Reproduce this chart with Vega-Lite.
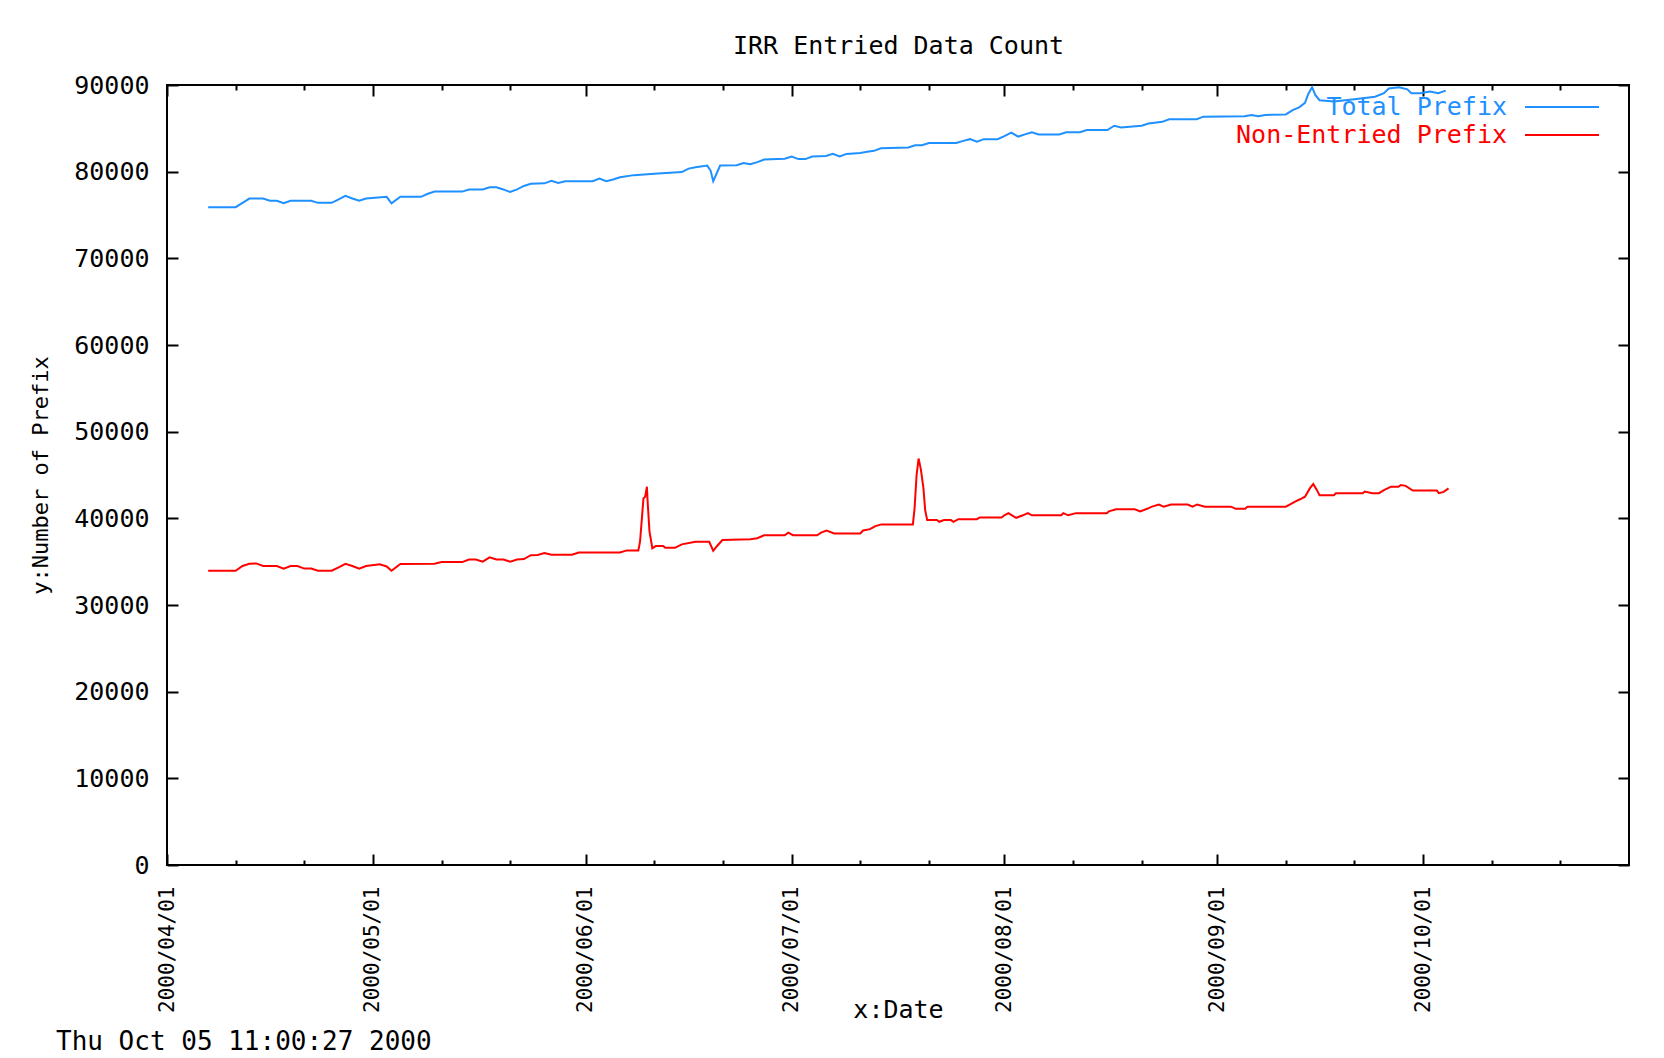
{
"$schema": "https://vega.github.io/schema/vega-lite/v6.json",
"width": 1462, "height": 780,
"autosize": {"type": "none"},
"padding": {"left": 167, "top": 85, "right": 35, "bottom": 193},
"background": "#ffffff",
"title": {"text": "Thu Oct 05 11:00:27 2000", "orient": "bottom", "anchor": "start", "frame": "group", "dx": -111, "offset": 7, "font": "DejaVu Sans Mono", "fontSize": 26, "fontWeight": "normal", "color": "#000000"},
"config": {
  "view": {"stroke": "#000000", "strokeWidth": 2},
  "axis": {"labelFont": "DejaVu Sans Mono", "titleFont": "DejaVu Sans Mono", "labelColor": "#000000", "titleColor": "#000000", "tickColor": "#000000", "tickWidth": 2, "domain": false, "grid": false, "titleFontWeight": "normal"}
},
"data": {"values": [
{"d":"2000-04-07T00:00","v":75900,"s":"Total Prefix"},
{"d":"2000-04-11T00:00","v":75900,"s":"Total Prefix"},
{"d":"2000-04-12T00:00","v":76400,"s":"Total Prefix"},
{"d":"2000-04-13T00:00","v":76900,"s":"Total Prefix"},
{"d":"2000-04-15T00:00","v":76900,"s":"Total Prefix"},
{"d":"2000-04-16T00:00","v":76650,"s":"Total Prefix"},
{"d":"2000-04-17T00:00","v":76650,"s":"Total Prefix"},
{"d":"2000-04-18T00:00","v":76350,"s":"Total Prefix"},
{"d":"2000-04-19T00:00","v":76650,"s":"Total Prefix"},
{"d":"2000-04-22T00:00","v":76650,"s":"Total Prefix"},
{"d":"2000-04-23T00:00","v":76400,"s":"Total Prefix"},
{"d":"2000-04-25T00:00","v":76400,"s":"Total Prefix"},
{"d":"2000-04-26T00:00","v":76800,"s":"Total Prefix"},
{"d":"2000-04-27T00:00","v":77200,"s":"Total Prefix"},
{"d":"2000-04-28T00:00","v":76900,"s":"Total Prefix"},
{"d":"2000-04-29T00:00","v":76650,"s":"Total Prefix"},
{"d":"2000-04-30T00:00","v":76900,"s":"Total Prefix"},
{"d":"2000-05-03T00:00","v":77100,"s":"Total Prefix"},
{"d":"2000-05-03T17:00","v":76350,"s":"Total Prefix"},
{"d":"2000-05-05T00:00","v":77100,"s":"Total Prefix"},
{"d":"2000-05-08T00:00","v":77100,"s":"Total Prefix"},
{"d":"2000-05-09T00:00","v":77450,"s":"Total Prefix"},
{"d":"2000-05-10T00:00","v":77700,"s":"Total Prefix"},
{"d":"2000-05-14T00:00","v":77700,"s":"Total Prefix"},
{"d":"2000-05-15T00:00","v":77950,"s":"Total Prefix"},
{"d":"2000-05-17T00:00","v":77950,"s":"Total Prefix"},
{"d":"2000-05-18T00:00","v":78200,"s":"Total Prefix"},
{"d":"2000-05-19T00:00","v":78200,"s":"Total Prefix"},
{"d":"2000-05-20T00:00","v":77950,"s":"Total Prefix"},
{"d":"2000-05-21T00:00","v":77650,"s":"Total Prefix"},
{"d":"2000-05-22T00:00","v":77950,"s":"Total Prefix"},
{"d":"2000-05-23T00:00","v":78350,"s":"Total Prefix"},
{"d":"2000-05-24T00:00","v":78600,"s":"Total Prefix"},
{"d":"2000-05-26T00:00","v":78650,"s":"Total Prefix"},
{"d":"2000-05-27T00:00","v":78950,"s":"Total Prefix"},
{"d":"2000-05-28T00:00","v":78700,"s":"Total Prefix"},
{"d":"2000-05-29T00:00","v":78900,"s":"Total Prefix"},
{"d":"2000-06-02T00:00","v":78900,"s":"Total Prefix"},
{"d":"2000-06-03T00:00","v":79200,"s":"Total Prefix"},
{"d":"2000-06-04T00:00","v":78900,"s":"Total Prefix"},
{"d":"2000-06-05T00:00","v":79100,"s":"Total Prefix"},
{"d":"2000-06-06T00:00","v":79350,"s":"Total Prefix"},
{"d":"2000-06-08T00:00","v":79600,"s":"Total Prefix"},
{"d":"2000-06-11T00:00","v":79750,"s":"Total Prefix"},
{"d":"2000-06-15T00:00","v":79950,"s":"Total Prefix"},
{"d":"2000-06-16T00:00","v":80350,"s":"Total Prefix"},
{"d":"2000-06-17T00:00","v":80500,"s":"Total Prefix"},
{"d":"2000-06-18T17:00","v":80700,"s":"Total Prefix"},
{"d":"2000-06-19T05:00","v":80100,"s":"Total Prefix"},
{"d":"2000-06-19T14:00","v":78900,"s":"Total Prefix"},
{"d":"2000-06-20T14:00","v":80700,"s":"Total Prefix"},
{"d":"2000-06-23T00:00","v":80750,"s":"Total Prefix"},
{"d":"2000-06-24T00:00","v":81000,"s":"Total Prefix"},
{"d":"2000-06-25T00:00","v":80850,"s":"Total Prefix"},
{"d":"2000-06-26T00:00","v":81100,"s":"Total Prefix"},
{"d":"2000-06-27T00:00","v":81400,"s":"Total Prefix"},
{"d":"2000-06-30T00:00","v":81500,"s":"Total Prefix"},
{"d":"2000-07-01T00:00","v":81750,"s":"Total Prefix"},
{"d":"2000-07-02T00:00","v":81450,"s":"Total Prefix"},
{"d":"2000-07-03T00:00","v":81450,"s":"Total Prefix"},
{"d":"2000-07-04T00:00","v":81750,"s":"Total Prefix"},
{"d":"2000-07-06T00:00","v":81800,"s":"Total Prefix"},
{"d":"2000-07-07T00:00","v":82050,"s":"Total Prefix"},
{"d":"2000-07-08T00:00","v":81750,"s":"Total Prefix"},
{"d":"2000-07-09T00:00","v":82050,"s":"Total Prefix"},
{"d":"2000-07-11T00:00","v":82150,"s":"Total Prefix"},
{"d":"2000-07-12T00:00","v":82300,"s":"Total Prefix"},
{"d":"2000-07-13T00:00","v":82400,"s":"Total Prefix"},
{"d":"2000-07-14T00:00","v":82700,"s":"Total Prefix"},
{"d":"2000-07-18T00:00","v":82800,"s":"Total Prefix"},
{"d":"2000-07-19T00:00","v":83050,"s":"Total Prefix"},
{"d":"2000-07-20T00:00","v":83050,"s":"Total Prefix"},
{"d":"2000-07-21T00:00","v":83300,"s":"Total Prefix"},
{"d":"2000-07-25T00:00","v":83300,"s":"Total Prefix"},
{"d":"2000-07-26T00:00","v":83550,"s":"Total Prefix"},
{"d":"2000-07-27T00:00","v":83750,"s":"Total Prefix"},
{"d":"2000-07-28T00:00","v":83450,"s":"Total Prefix"},
{"d":"2000-07-29T00:00","v":83750,"s":"Total Prefix"},
{"d":"2000-07-31T00:00","v":83750,"s":"Total Prefix"},
{"d":"2000-08-01T00:00","v":84100,"s":"Total Prefix"},
{"d":"2000-08-02T00:00","v":84500,"s":"Total Prefix"},
{"d":"2000-08-03T00:00","v":84050,"s":"Total Prefix"},
{"d":"2000-08-04T00:00","v":84300,"s":"Total Prefix"},
{"d":"2000-08-05T00:00","v":84550,"s":"Total Prefix"},
{"d":"2000-08-06T00:00","v":84300,"s":"Total Prefix"},
{"d":"2000-08-09T00:00","v":84300,"s":"Total Prefix"},
{"d":"2000-08-10T00:00","v":84550,"s":"Total Prefix"},
{"d":"2000-08-12T00:00","v":84550,"s":"Total Prefix"},
{"d":"2000-08-13T00:00","v":84800,"s":"Total Prefix"},
{"d":"2000-08-16T00:00","v":84800,"s":"Total Prefix"},
{"d":"2000-08-17T00:00","v":85300,"s":"Total Prefix"},
{"d":"2000-08-18T00:00","v":85100,"s":"Total Prefix"},
{"d":"2000-08-21T00:00","v":85300,"s":"Total Prefix"},
{"d":"2000-08-22T00:00","v":85550,"s":"Total Prefix"},
{"d":"2000-08-24T00:00","v":85750,"s":"Total Prefix"},
{"d":"2000-08-25T00:00","v":86050,"s":"Total Prefix"},
{"d":"2000-08-29T00:00","v":86050,"s":"Total Prefix"},
{"d":"2000-08-30T00:00","v":86350,"s":"Total Prefix"},
{"d":"2000-09-05T00:00","v":86400,"s":"Total Prefix"},
{"d":"2000-09-06T00:00","v":86550,"s":"Total Prefix"},
{"d":"2000-09-07T00:00","v":86400,"s":"Total Prefix"},
{"d":"2000-09-08T00:00","v":86550,"s":"Total Prefix"},
{"d":"2000-09-11T00:00","v":86600,"s":"Total Prefix"},
{"d":"2000-09-12T00:00","v":87100,"s":"Total Prefix"},
{"d":"2000-09-13T00:00","v":87450,"s":"Total Prefix"},
{"d":"2000-09-13T19:00","v":87950,"s":"Total Prefix"},
{"d":"2000-09-14T07:00","v":89000,"s":"Total Prefix"},
{"d":"2000-09-14T20:00","v":89750,"s":"Total Prefix"},
{"d":"2000-09-15T07:00","v":88850,"s":"Total Prefix"},
{"d":"2000-09-15T22:00","v":88250,"s":"Total Prefix"},
{"d":"2000-09-18T00:00","v":88100,"s":"Total Prefix"},
{"d":"2000-09-21T00:00","v":88350,"s":"Total Prefix"},
{"d":"2000-09-24T00:00","v":88650,"s":"Total Prefix"},
{"d":"2000-09-25T07:00","v":89050,"s":"Total Prefix"},
{"d":"2000-09-26T00:00","v":89600,"s":"Total Prefix"},
{"d":"2000-09-27T12:00","v":89750,"s":"Total Prefix"},
{"d":"2000-09-28T17:00","v":89500,"s":"Total Prefix"},
{"d":"2000-09-29T07:00","v":89050,"s":"Total Prefix"},
{"d":"2000-09-30T14:00","v":89050,"s":"Total Prefix"},
{"d":"2000-10-02T00:00","v":89250,"s":"Total Prefix"},
{"d":"2000-10-03T05:00","v":89050,"s":"Total Prefix"},
{"d":"2000-10-04T07:00","v":89350,"s":"Total Prefix"},
{"d":"2000-04-07T00:00","v":33950,"s":"Non-Entried Prefix"},
{"d":"2000-04-11T00:00","v":33950,"s":"Non-Entried Prefix"},
{"d":"2000-04-12T00:00","v":34500,"s":"Non-Entried Prefix"},
{"d":"2000-04-13T00:00","v":34750,"s":"Non-Entried Prefix"},
{"d":"2000-04-14T00:00","v":34800,"s":"Non-Entried Prefix"},
{"d":"2000-04-15T00:00","v":34500,"s":"Non-Entried Prefix"},
{"d":"2000-04-17T00:00","v":34500,"s":"Non-Entried Prefix"},
{"d":"2000-04-18T00:00","v":34200,"s":"Non-Entried Prefix"},
{"d":"2000-04-19T00:00","v":34500,"s":"Non-Entried Prefix"},
{"d":"2000-04-20T00:00","v":34500,"s":"Non-Entried Prefix"},
{"d":"2000-04-21T00:00","v":34200,"s":"Non-Entried Prefix"},
{"d":"2000-04-22T00:00","v":34200,"s":"Non-Entried Prefix"},
{"d":"2000-04-23T00:00","v":33950,"s":"Non-Entried Prefix"},
{"d":"2000-04-25T00:00","v":33950,"s":"Non-Entried Prefix"},
{"d":"2000-04-26T00:00","v":34350,"s":"Non-Entried Prefix"},
{"d":"2000-04-27T00:00","v":34750,"s":"Non-Entried Prefix"},
{"d":"2000-04-28T00:00","v":34500,"s":"Non-Entried Prefix"},
{"d":"2000-04-29T00:00","v":34200,"s":"Non-Entried Prefix"},
{"d":"2000-04-30T00:00","v":34500,"s":"Non-Entried Prefix"},
{"d":"2000-05-02T00:00","v":34700,"s":"Non-Entried Prefix"},
{"d":"2000-05-03T00:00","v":34450,"s":"Non-Entried Prefix"},
{"d":"2000-05-03T17:00","v":33950,"s":"Non-Entried Prefix"},
{"d":"2000-05-05T00:00","v":34730,"s":"Non-Entried Prefix"},
{"d":"2000-05-10T00:00","v":34750,"s":"Non-Entried Prefix"},
{"d":"2000-05-11T00:00","v":34950,"s":"Non-Entried Prefix"},
{"d":"2000-05-14T00:00","v":34950,"s":"Non-Entried Prefix"},
{"d":"2000-05-15T00:00","v":35250,"s":"Non-Entried Prefix"},
{"d":"2000-05-16T00:00","v":35250,"s":"Non-Entried Prefix"},
{"d":"2000-05-17T00:00","v":35000,"s":"Non-Entried Prefix"},
{"d":"2000-05-18T00:00","v":35500,"s":"Non-Entried Prefix"},
{"d":"2000-05-19T00:00","v":35250,"s":"Non-Entried Prefix"},
{"d":"2000-05-20T00:00","v":35250,"s":"Non-Entried Prefix"},
{"d":"2000-05-21T00:00","v":35000,"s":"Non-Entried Prefix"},
{"d":"2000-05-22T00:00","v":35250,"s":"Non-Entried Prefix"},
{"d":"2000-05-23T00:00","v":35300,"s":"Non-Entried Prefix"},
{"d":"2000-05-24T00:00","v":35750,"s":"Non-Entried Prefix"},
{"d":"2000-05-25T00:00","v":35770,"s":"Non-Entried Prefix"},
{"d":"2000-05-26T00:00","v":36000,"s":"Non-Entried Prefix"},
{"d":"2000-05-27T00:00","v":35800,"s":"Non-Entried Prefix"},
{"d":"2000-05-30T00:00","v":35800,"s":"Non-Entried Prefix"},
{"d":"2000-05-31T00:00","v":36050,"s":"Non-Entried Prefix"},
{"d":"2000-06-06T00:00","v":36050,"s":"Non-Entried Prefix"},
{"d":"2000-06-07T00:00","v":36300,"s":"Non-Entried Prefix"},
{"d":"2000-06-08T16:00","v":36300,"s":"Non-Entried Prefix"},
{"d":"2000-06-08T22:00","v":37300,"s":"Non-Entried Prefix"},
{"d":"2000-06-09T04:00","v":39800,"s":"Non-Entried Prefix"},
{"d":"2000-06-09T10:00","v":42300,"s":"Non-Entried Prefix"},
{"d":"2000-06-09T16:00","v":42500,"s":"Non-Entried Prefix"},
{"d":"2000-06-09T22:00","v":43650,"s":"Non-Entried Prefix"},
{"d":"2000-06-10T01:00","v":41700,"s":"Non-Entried Prefix"},
{"d":"2000-06-10T07:00","v":38500,"s":"Non-Entried Prefix"},
{"d":"2000-06-10T17:00","v":36550,"s":"Non-Entried Prefix"},
{"d":"2000-06-11T05:00","v":36800,"s":"Non-Entried Prefix"},
{"d":"2000-06-12T07:00","v":36800,"s":"Non-Entried Prefix"},
{"d":"2000-06-12T14:00","v":36600,"s":"Non-Entried Prefix"},
{"d":"2000-06-14T00:00","v":36600,"s":"Non-Entried Prefix"},
{"d":"2000-06-15T00:00","v":37000,"s":"Non-Entried Prefix"},
{"d":"2000-06-17T00:00","v":37300,"s":"Non-Entried Prefix"},
{"d":"2000-06-19T00:00","v":37300,"s":"Non-Entried Prefix"},
{"d":"2000-06-19T14:00","v":36250,"s":"Non-Entried Prefix"},
{"d":"2000-06-20T02:00","v":36750,"s":"Non-Entried Prefix"},
{"d":"2000-06-20T22:00","v":37500,"s":"Non-Entried Prefix"},
{"d":"2000-06-25T00:00","v":37600,"s":"Non-Entried Prefix"},
{"d":"2000-06-26T00:00","v":37700,"s":"Non-Entried Prefix"},
{"d":"2000-06-27T00:00","v":38050,"s":"Non-Entried Prefix"},
{"d":"2000-06-30T00:00","v":38050,"s":"Non-Entried Prefix"},
{"d":"2000-06-30T12:00","v":38350,"s":"Non-Entried Prefix"},
{"d":"2000-07-01T05:00","v":38050,"s":"Non-Entried Prefix"},
{"d":"2000-07-04T17:00","v":38050,"s":"Non-Entried Prefix"},
{"d":"2000-07-05T07:00","v":38350,"s":"Non-Entried Prefix"},
{"d":"2000-07-06T02:00","v":38600,"s":"Non-Entried Prefix"},
{"d":"2000-07-07T05:00","v":38250,"s":"Non-Entried Prefix"},
{"d":"2000-07-11T00:00","v":38250,"s":"Non-Entried Prefix"},
{"d":"2000-07-11T10:00","v":38600,"s":"Non-Entried Prefix"},
{"d":"2000-07-12T10:00","v":38750,"s":"Non-Entried Prefix"},
{"d":"2000-07-13T05:00","v":39100,"s":"Non-Entried Prefix"},
{"d":"2000-07-14T02:00","v":39300,"s":"Non-Entried Prefix"},
{"d":"2000-07-18T16:00","v":39300,"s":"Non-Entried Prefix"},
{"d":"2000-07-18T22:00","v":41150,"s":"Non-Entried Prefix"},
{"d":"2000-07-19T05:00","v":45000,"s":"Non-Entried Prefix"},
{"d":"2000-07-19T12:00","v":46900,"s":"Non-Entried Prefix"},
{"d":"2000-07-19T20:00","v":45650,"s":"Non-Entried Prefix"},
{"d":"2000-07-20T05:00","v":43450,"s":"Non-Entried Prefix"},
{"d":"2000-07-20T11:00","v":40950,"s":"Non-Entried Prefix"},
{"d":"2000-07-20T18:00","v":39800,"s":"Non-Entried Prefix"},
{"d":"2000-07-22T04:00","v":39800,"s":"Non-Entried Prefix"},
{"d":"2000-07-22T12:00","v":39600,"s":"Non-Entried Prefix"},
{"d":"2000-07-23T05:00","v":39800,"s":"Non-Entried Prefix"},
{"d":"2000-07-24T05:00","v":39800,"s":"Non-Entried Prefix"},
{"d":"2000-07-24T14:00","v":39600,"s":"Non-Entried Prefix"},
{"d":"2000-07-25T07:00","v":39900,"s":"Non-Entried Prefix"},
{"d":"2000-07-28T00:00","v":39900,"s":"Non-Entried Prefix"},
{"d":"2000-07-28T10:00","v":40100,"s":"Non-Entried Prefix"},
{"d":"2000-07-31T14:00","v":40100,"s":"Non-Entried Prefix"},
{"d":"2000-08-01T00:00","v":40350,"s":"Non-Entried Prefix"},
{"d":"2000-08-01T14:00","v":40600,"s":"Non-Entried Prefix"},
{"d":"2000-08-02T17:00","v":40050,"s":"Non-Entried Prefix"},
{"d":"2000-08-03T17:00","v":40350,"s":"Non-Entried Prefix"},
{"d":"2000-08-04T10:00","v":40600,"s":"Non-Entried Prefix"},
{"d":"2000-08-05T00:00","v":40350,"s":"Non-Entried Prefix"},
{"d":"2000-08-09T07:00","v":40350,"s":"Non-Entried Prefix"},
{"d":"2000-08-09T14:00","v":40600,"s":"Non-Entried Prefix"},
{"d":"2000-08-10T07:00","v":40350,"s":"Non-Entried Prefix"},
{"d":"2000-08-11T10:00","v":40600,"s":"Non-Entried Prefix"},
{"d":"2000-08-15T22:00","v":40600,"s":"Non-Entried Prefix"},
{"d":"2000-08-16T05:00","v":40800,"s":"Non-Entried Prefix"},
{"d":"2000-08-17T07:00","v":41050,"s":"Non-Entried Prefix"},
{"d":"2000-08-20T00:00","v":41050,"s":"Non-Entried Prefix"},
{"d":"2000-08-20T19:00","v":40800,"s":"Non-Entried Prefix"},
{"d":"2000-08-21T19:00","v":41100,"s":"Non-Entried Prefix"},
{"d":"2000-08-22T12:00","v":41350,"s":"Non-Entried Prefix"},
{"d":"2000-08-23T12:00","v":41600,"s":"Non-Entried Prefix"},
{"d":"2000-08-24T05:00","v":41350,"s":"Non-Entried Prefix"},
{"d":"2000-08-25T07:00","v":41600,"s":"Non-Entried Prefix"},
{"d":"2000-08-27T17:00","v":41600,"s":"Non-Entried Prefix"},
{"d":"2000-08-28T10:00","v":41350,"s":"Non-Entried Prefix"},
{"d":"2000-08-29T02:00","v":41600,"s":"Non-Entried Prefix"},
{"d":"2000-08-30T05:00","v":41350,"s":"Non-Entried Prefix"},
{"d":"2000-09-03T00:00","v":41350,"s":"Non-Entried Prefix"},
{"d":"2000-09-03T17:00","v":41100,"s":"Non-Entried Prefix"},
{"d":"2000-09-05T02:00","v":41100,"s":"Non-Entried Prefix"},
{"d":"2000-09-05T10:00","v":41350,"s":"Non-Entried Prefix"},
{"d":"2000-09-11T00:00","v":41350,"s":"Non-Entried Prefix"},
{"d":"2000-09-11T17:00","v":41650,"s":"Non-Entried Prefix"},
{"d":"2000-09-12T10:00","v":41950,"s":"Non-Entried Prefix"},
{"d":"2000-09-13T02:00","v":42200,"s":"Non-Entried Prefix"},
{"d":"2000-09-13T19:00","v":42500,"s":"Non-Entried Prefix"},
{"d":"2000-09-14T12:00","v":43450,"s":"Non-Entried Prefix"},
{"d":"2000-09-15T00:00","v":43950,"s":"Non-Entried Prefix"},
{"d":"2000-09-15T13:00","v":43250,"s":"Non-Entried Prefix"},
{"d":"2000-09-15T22:00","v":42650,"s":"Non-Entried Prefix"},
{"d":"2000-09-18T00:00","v":42650,"s":"Non-Entried Prefix"},
{"d":"2000-09-18T07:00","v":42900,"s":"Non-Entried Prefix"},
{"d":"2000-09-22T05:00","v":42900,"s":"Non-Entried Prefix"},
{"d":"2000-09-22T12:00","v":43100,"s":"Non-Entried Prefix"},
{"d":"2000-09-23T14:00","v":42900,"s":"Non-Entried Prefix"},
{"d":"2000-09-24T14:00","v":42900,"s":"Non-Entried Prefix"},
{"d":"2000-09-25T07:00","v":43250,"s":"Non-Entried Prefix"},
{"d":"2000-09-26T08:00","v":43650,"s":"Non-Entried Prefix"},
{"d":"2000-09-27T10:00","v":43650,"s":"Non-Entried Prefix"},
{"d":"2000-09-27T18:00","v":43850,"s":"Non-Entried Prefix"},
{"d":"2000-09-28T11:00","v":43750,"s":"Non-Entried Prefix"},
{"d":"2000-09-29T12:00","v":43200,"s":"Non-Entried Prefix"},
{"d":"2000-10-03T00:00","v":43200,"s":"Non-Entried Prefix"},
{"d":"2000-10-03T07:00","v":42900,"s":"Non-Entried Prefix"},
{"d":"2000-10-04T00:00","v":43050,"s":"Non-Entried Prefix"},
{"d":"2000-10-04T17:00","v":43450,"s":"Non-Entried Prefix"}
]},
"layer": [
  {
    "mark": {"type": "line", "strokeWidth": 2},
    "encoding": {
      "x": {"field": "d", "type": "temporal",
        "scale": {"domain": [{"year": 2000, "month": 4, "date": 1}, {"year": 2000, "month": 10, "date": 31}]},
        "axis": {"orient": "bottom",
          "values": [{"year":2000,"month":4,"date":1},{"year":2000,"month":4,"date":11},{"year":2000,"month":4,"date":21},{"year":2000,"month":5,"date":1},{"year":2000,"month":5,"date":11},{"year":2000,"month":5,"date":21},{"year":2000,"month":6,"date":1},{"year":2000,"month":6,"date":11},{"year":2000,"month":6,"date":21},{"year":2000,"month":7,"date":1},{"year":2000,"month":7,"date":11},{"year":2000,"month":7,"date":21},{"year":2000,"month":8,"date":1},{"year":2000,"month":8,"date":11},{"year":2000,"month":8,"date":21},{"year":2000,"month":9,"date":1},{"year":2000,"month":9,"date":11},{"year":2000,"month":9,"date":21},{"year":2000,"month":10,"date":1},{"year":2000,"month":10,"date":11},{"year":2000,"month":10,"date":21}],
          "labelExpr": "date(datum.value) == 1 ? timeFormat(datum.value, '%Y/%m/%d') : ''",
          "labelAngle": 270, "labelAlign": "right", "labelBaseline": "middle",
          "labelFontSize": 21, "labelPadding": 32, "labelOverlap": false, "labelBound": false, "labelFlush": false,
          "tickSize": {"condition": {"test": "date(datum.value) == 1", "value": -11}, "value": -5},
          "title": "x:Date", "titleFontSize": 25, "titleY": 144, "titleBaseline": "middle"}},
      "y": {"field": "v", "type": "quantitative",
        "scale": {"domain": [0, 90000], "nice": false, "zero": true},
        "axis": {"orient": "left", "values": [0,10000,20000,30000,40000,50000,60000,70000,80000,90000],
          "format": "d", "tickSize": -11, "labelPadding": 29, "labelFontSize": 25, "labelBaseline": "middle",
          "title": "y:Number of Prefix", "titleFontSize": 22, "titleX": -127, "titleY": 390,
          "titleAngle": 270, "titleBaseline": "middle", "titleAlign": "center"}},
      "color": {"field": "s", "type": "nominal",
        "scale": {"domain": ["Total Prefix", "Non-Entried Prefix"], "range": ["#1e90ff", "#ff0000"]},
        "legend": {"orient": "none", "legendX": 1382.5, "legendY": 9.5, "title": null,
          "symbolType": "M-5,0H5", "symbolSize": 219, "symbolStrokeWidth": 2,
          "rowPadding": 2, "padding": 0, "labelFont": "DejaVu Sans Mono", "labelFontSize": 25,
          "labelAlign": "right", "labelOffset": -67.5, "labelLimit": 500, "labelBaseline": "middle",
          "encode": {"labels": {"update": {"fill": {"scale": "color", "field": "value"}}}}}}
    }
  },
  {
    "mark": {"type": "point", "opacity": 0},
    "encoding": {
      "x": {"field": "d", "type": "temporal",
        "axis": {"orient": "top",
          "values": [{"year":2000,"month":4,"date":1},{"year":2000,"month":4,"date":11},{"year":2000,"month":4,"date":21},{"year":2000,"month":5,"date":1},{"year":2000,"month":5,"date":11},{"year":2000,"month":5,"date":21},{"year":2000,"month":6,"date":1},{"year":2000,"month":6,"date":11},{"year":2000,"month":6,"date":21},{"year":2000,"month":7,"date":1},{"year":2000,"month":7,"date":11},{"year":2000,"month":7,"date":21},{"year":2000,"month":8,"date":1},{"year":2000,"month":8,"date":11},{"year":2000,"month":8,"date":21},{"year":2000,"month":9,"date":1},{"year":2000,"month":9,"date":11},{"year":2000,"month":9,"date":21},{"year":2000,"month":10,"date":1},{"year":2000,"month":10,"date":11},{"year":2000,"month":10,"date":21}],
          "labels": false,
          "tickSize": {"condition": {"test": "date(datum.value) == 1", "value": -11}, "value": -5},
          "title": "IRR Entried Data Count", "titleFontSize": 25, "titleY": -40, "titleBaseline": "middle"}},
      "y": {"field": "v", "type": "quantitative",
        "axis": {"orient": "right", "values": [0,10000,20000,30000,40000,50000,60000,70000,80000,90000],
          "labels": false, "tickSize": -11, "title": null}}
    }
  }
],
"resolve": {"axis": {"x": "independent", "y": "independent"}}
}
